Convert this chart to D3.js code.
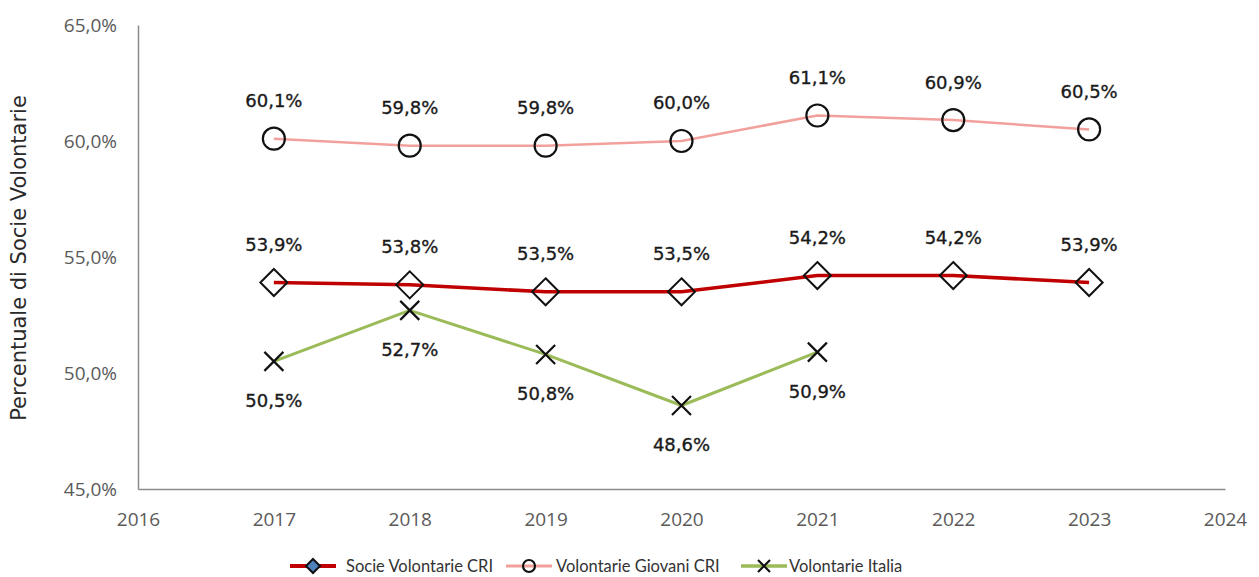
<!DOCTYPE html>
<html>
<head>
<meta charset="utf-8">
<script src="https://cdn.jsdelivr.net/npm/d3@7"></script>
<style>
  html, body { margin: 0; padding: 0; background: #fff; }
  svg { display: block; }
</style>
</head>
<body>
<svg id="chart" width="1259" height="577"></svg>
<script>
// Years shown on the x axis and percentages per series
const years = [2017, 2018, 2019, 2020, 2021, 2022, 2023];
const socieCRI = [53.9, 53.8, 53.5, 53.5, 54.2, 54.2, 53.9];
const giovaniCRI = [60.1, 59.8, 59.8, 60.0, 61.1, 60.9, 60.5];
const italiaYears = [2017, 2018, 2019, 2020, 2021];
const volontarieItalia = [50.5, 52.7, 50.8, 48.6, 50.9];
const xTicks = [2016, 2017, 2018, 2019, 2020, 2021, 2022, 2023, 2024];
const yTicks = [45, 50, 55, 60, 65];
const seriesNames = ["Socie Volontarie CRI", "Volontarie Giovani CRI", "Volontarie Italia"];

const svg = d3.select("#chart");
const plot = { left: 138, right: 1225, top: 25, bottom: 489 };

const x = d3.scaleLinear().domain([2016, 2024]).range([plot.left, plot.right]);
const y = d3.scaleLinear().domain([45, 65]).range([plot.bottom, plot.top]);
const fmt = v => d3.format(".1f")(v).replace(".", ",") + "%";

// axes
const xAxis = svg.append("g").attr("transform", `translate(0,${plot.bottom})`)
  .call(d3.axisBottom(x).tickValues(xTicks).tickFormat(d3.format("d")).tickSize(0).tickPadding(24));
const yAxis = svg.append("g").attr("transform", `translate(${plot.left},0)`)
  .call(d3.axisLeft(y).tickValues(yTicks).tickFormat(v => fmt(v)).tickSize(0).tickPadding(21));
[xAxis, yAxis].forEach(a => {
  a.select(".domain").attr("stroke", "#8c8c8c").attr("stroke-width", 1.5);
  a.selectAll("text").attr("font-family", "'Open Sans', sans-serif").attr("font-size", 19).attr("fill", "#5a5a5a");
});

// y axis title
svg.append("text")
  .attr("transform", `translate(19,${(plot.top + plot.bottom) / 2 + 1}) rotate(-90)`)
  .attr("text-anchor", "middle")
  .attr("dy", "0.35em")
  .attr("font-family", "'DejaVu Sans', sans-serif")
  .attr("font-size", 21)
  .attr("fill", "#2a2a2a")
  .text("Percentuale di Socie Volontarie");

const line = d3.line().x(d => x(d[0])).y(d => y(d[1]));

// marker drawers
function diamond(g, cx, cy, s, fill) {
  g.append("path")
    .attr("d", `M${cx},${cy - s}L${cx + s},${cy}L${cx},${cy + s}L${cx - s},${cy}Z`)
    .attr("fill", fill).attr("stroke", "#111").attr("stroke-width", 2);
}
function circle(g, cx, cy, r) {
  g.append("circle").attr("cx", cx).attr("cy", cy).attr("r", r)
    .attr("fill", "none").attr("stroke", "#111").attr("stroke-width", 2.2);
}
function cross(g, cx, cy, s) {
  g.append("path")
    .attr("d", `M${cx - s},${cy - s}L${cx + s},${cy + s}M${cx - s},${cy + s}L${cx + s},${cy - s}`)
    .attr("stroke", "#111").attr("stroke-width", 2.2).attr("fill", "none");
}

const series = [
  { name: seriesNames[0], years: years, values: socieCRI, color: "#c00000", width: 3.5, marker: "diamond", labelDy: -38 },
  { name: seriesNames[1], years: years, values: giovaniCRI, color: "#f2a09c", width: 2.5, marker: "circle", labelDy: -38 },
  { name: seriesNames[2], years: italiaYears, values: volontarieItalia, color: "#9bbb59", width: 3, marker: "cross", labelDy: 39 }
];

series.forEach(s => {
  const pts = s.years.map((yr, i) => [yr, s.values[i]]);
  const g = svg.append("g");
  g.append("path").attr("d", line(pts)).attr("fill", "none")
    .attr("stroke", s.color).attr("stroke-width", s.width).attr("stroke-linejoin", "round");
  pts.forEach(p => {
    const cx = x(p[0]), cy = y(p[1]);
    if (s.marker === "diamond") diamond(g, cx, cy, 13.5, "none");
    else if (s.marker === "circle") circle(g, cx, cy, 11);
    else cross(g, cx, cy, 9.5);
    g.append("text")
      .attr("x", cx).attr("y", cy + s.labelDy).attr("dy", "0.36em")
      .attr("text-anchor", "middle")
      .attr("font-family", "'DejaVu Sans', sans-serif")
      .attr("font-size", 18)
      .attr("fill", "#1a1a1a")
      .attr("stroke", "#1a1a1a")
      .attr("stroke-width", 0.35)
      .text(fmt(p[1]));
  });
});

// legend
const legendY = 566;
const legendItems = [
  { x: 290, textX: 346, s: series[0] },
  { x: 506, textX: 556, s: series[1] },
  { x: 741, textX: 789, s: series[2] }
];
legendItems.forEach(it => {
  const g = svg.append("g");
  g.append("line").attr("x1", it.x).attr("x2", it.x + 46).attr("y1", legendY).attr("y2", legendY)
    .attr("stroke", it.s.color).attr("stroke-width", it.s.width + 0.5);
  const cx = it.x + 23;
  if (it.s.marker === "diamond") diamond(g, cx, legendY, 7, "#4f81bd");
  else if (it.s.marker === "circle") circle(g, cx, legendY, 6);
  else cross(g, cx, legendY, 6);
  g.append("text").attr("x", it.textX).attr("y", legendY).attr("dy", "0.35em")
    .attr("font-family", "Lato, sans-serif").attr("font-size", 16.5).attr("fill", "#333")
    .text(it.s.name);
});
</script>
</body>
</html>
